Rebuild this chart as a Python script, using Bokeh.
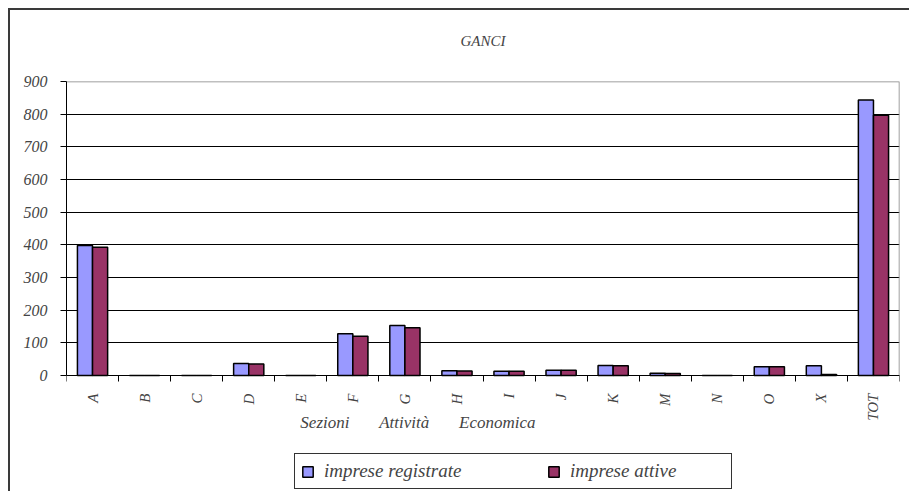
import math
from bokeh.plotting import figure
from bokeh.models import (FixedTicker, Legend, LegendItem, ColumnDataSource,
                          Range1d, Label, Title)
from bokeh.transform import dodge
from bokeh.embed import file_html
from bokeh.resources import INLINE

# ---- data ----
categories = ["A", "B", "C", "D", "E", "F", "G", "H", "I", "J", "K", "M", "N", "O", "X", "TOT"]
registrate = [398, 0, 0, 37, 0, 128, 153, 15, 13, 16, 31, 7, 0, 27, 30, 843]
attive = [393, 0, 0, 35, 0, 120, 146, 14, 13, 16, 30, 6, 0, 27, 3, 797]
y_ticks = [0, 100, 200, 300, 400, 500, 600, 700, 800, 900]
series_names = ["imprese registrate", "imprese attive"]
series_colors = ["#9999FF", "#993366"]
chart_title = "GANCI"
x_title = "Sezioni\u00a0\u00a0\u00a0\u00a0\u00a0\u00a0\u00a0Attività\u00a0\u00a0\u00a0\u00a0\u00a0\u00a0\u00a0Economica"

FONT = "Liberation Serif"

n = len(categories)
positions = list(range(1, n + 1))
source = ColumnDataSource(dict(x=positions, cat=categories, reg=registrate, att=attive))

y_lo, y_hi = y_ticks[0], y_ticks[-1]
# the frame reaches down to the legend; the value axis only spans 0..900
p = figure(width=901, height=483, title=None,
           x_range=Range1d(0.5, n + 0.5),
           y_range=Range1d(-361, y_hi),
           output_backend="svg", toolbar_location=None,
           min_border_left=56, min_border_right=12,
           min_border_top=71, min_border_bottom=0,
           background_fill_color="white", border_fill_color="white")
p.styles = {"border-left": "2px solid #3a3a3a", "border-top": "2px solid #3a3a3a",
            "margin-left": "8px", "margin-top": "8px"}
p.outline_line_color = None

# spacer between frame and title, then the title itself
p.add_layout(Title(text="\u00a0", text_font_size="1px", standoff=30), "above")
p.add_layout(Title(text=chart_title, align="center", standoff=0, text_font=FONT,
                   text_font_style="italic", text_font_size="15px"), "above")

bw = 0.29
r1 = p.vbar(x=dodge("x", -bw / 2, range=p.x_range), top="reg", width=bw, source=source,
            fill_color=series_colors[0], line_color="black", line_width=1.5)
r2 = p.vbar(x=dodge("x", bw / 2, range=p.x_range), top="att", width=bw, source=source,
            fill_color=series_colors[1], line_color="black", line_width=1.5)

# plot-area border (top and right, grey)
p.line(x=[0.5, n + 0.5, n + 0.5], y=[y_hi, y_hi, y_lo], line_color="#808080", line_width=1.5)

# axes
p.xaxis.fixed_location = 0
p.xaxis.ticker = FixedTicker(ticks=positions, minor_ticks=[i + 0.5 for i in range(n + 1)])
p.xaxis.major_label_overrides = {pos: c for pos, c in zip(positions, categories)}
p.xaxis.major_label_orientation = math.pi / 2
p.xaxis.major_tick_out = 0
p.xaxis.major_tick_in = 0
p.xaxis.minor_tick_out = 6
p.xaxis.minor_tick_in = 0
p.xaxis.minor_tick_line_color = "black"
p.xaxis.major_label_standoff = 12
p.xaxis.major_label_text_font = FONT
p.xaxis.major_label_text_font_style = "italic"
p.xaxis.major_label_text_font_size = "15px"
p.xaxis.axis_line_color = "black"

p.yaxis.ticker = FixedTicker(ticks=y_ticks, minor_ticks=[])
p.yaxis.bounds = (y_lo, y_hi)
p.yaxis.major_tick_out = 6
p.yaxis.major_tick_in = 0
p.yaxis.major_label_standoff = 13
p.yaxis.major_label_text_font = FONT
p.yaxis.major_label_text_font_style = "italic"
p.yaxis.major_label_text_font_size = "16px"
p.yaxis.axis_line_color = "black"

p.xgrid.visible = False
p.ygrid.grid_line_color = "black"
p.ygrid.grid_line_width = 1

# x axis title (Excel-style, left of centre)
xt = Label(x=7.25, y=-144, text=x_title, text_align="center", text_baseline="middle",
           text_font=FONT, text_font_style="italic", text_font_size="17px")
p.add_layout(xt)

legend = Legend(items=[LegendItem(label=series_names[0], renderers=[r1]),
                       LegendItem(label=series_names[1], renderers=[r2])],
                orientation="horizontal", location=(228, 4))
legend.margin = 0
legend.padding = 6
legend.spacing = 68
legend.glyph_width = 13
legend.glyph_height = 13
legend.label_standoff = 10
legend.label_width = 155
legend.label_text_font = FONT
legend.label_text_font_style = "italic"
legend.label_text_font_size = "19px"
legend.border_line_color = "#333333"
legend.border_line_alpha = 1
legend.border_line_width = 1.5
legend.background_fill_alpha = 1
p.add_layout(legend, "center")

open("out.html", "w").write(file_html(p, INLINE))
